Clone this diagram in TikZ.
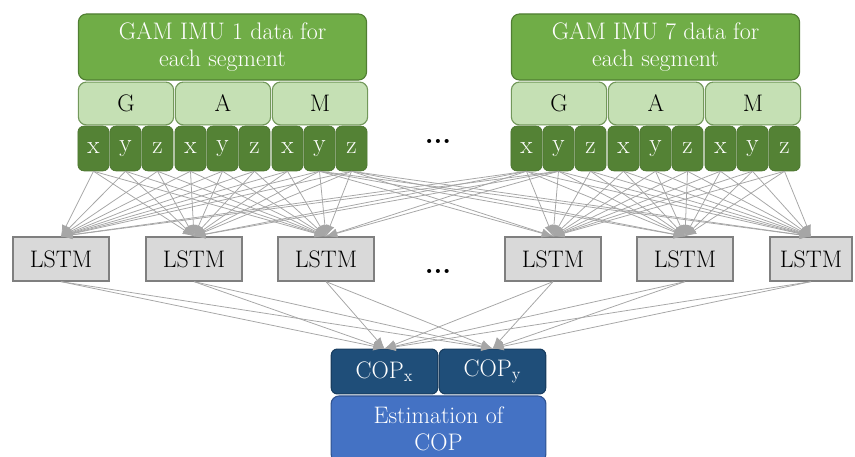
\documentclass[tikz,border=0pt]{standalone}
\usepackage{tikz}
\usetikzlibrary{positioning, arrows.meta}
\definecolor{imugreen}{HTML}{70AD47}
\definecolor{imuedge}{HTML}{507E32}
\definecolor{sensorgreen}{HTML}{C5E0B4}
\definecolor{axisgreen}{HTML}{548235}
\definecolor{lstmgray}{HTML}{D9D9D9}
\definecolor{lstmedge}{HTML}{7F7F7F}
\definecolor{linkgray}{HTML}{A6A6A6}
\definecolor{copblue}{HTML}{1F4E79}
\definecolor{estblue}{HTML}{4472C4}
\definecolor{estedge}{HTML}{2F528F}

\begin{document}
\begin{tikzpicture}[x=0.025cm, y=-0.025cm,
font=\fontsize{17}{19}\selectfont,
headnode/.style={rectangle, rounded corners=0.2cm, fill=imugreen, draw=imuedge, line width=0.8pt, text=white, align=center, minimum width=7.2cm, minimum height=1.65cm, inner sep=0pt},
sensornode/.style={rectangle, rounded corners=0.2cm, fill=sensorgreen, draw=imuedge!80, line width=0.8pt, minimum width=2.38cm, minimum height=1.07cm, inner sep=0pt},
axisnode/.style={rectangle, rounded corners=0.15cm, fill=axisgreen, draw=axisgreen!90!black, line width=0.5pt, text=white, font=\fontsize{18}{20}\selectfont, minimum width=0.78cm, minimum height=1.12cm, inner sep=0pt},
lstmnode/.style={rectangle, fill=lstmgray, draw=lstmedge, line width=1.5pt, minimum width=2.4cm, minimum height=1.08cm, inner sep=0pt},
copnode/.style={rectangle, rounded corners=0.15cm, fill=copblue, draw=copblue!80!black, line width=0.8pt, text=white, minimum width=2.66cm, minimum height=1.12cm, inner sep=0pt},
estnode/.style={rectangle, rounded corners=0.2cm, fill=estblue, draw=estedge, line width=0.8pt, text=white, align=center, minimum width=5.37cm, minimum height=1.65cm, inner sep=0pt},
dotsnode/.style={font=\fontsize{20}{20}\selectfont\bfseries},
link/.style={draw=linkgray, line width=0.55pt, -{Latex[length=0.28cm, width=0.22cm]}},
]
    \useasboundingbox (0,0) rectangle (855,457);

    % IMU blocks
    \foreach \g/\ox in {1/0, 7/433} {
        \node[headnode] (head\g) at (222.5+\ox, 47) {GAM IMU \g\ data for\\each segment};
        \foreach \s [count=\i from 0] in {G,A,M} {
            \node[sensornode] (sens\g\s) at (126+97*\i+\ox, 103.5) {\s};
            \foreach \a [count=\j from 0] in {x,y,z}
                \node[axisnode] (ax\g\s\a) at (93.5+97*\i+32*\j+\ox, 148.5) {\a};
        }
    }
    \node[dotsnode] (dotstop) at (438, 141) {...};

    % LSTM layer
    \foreach \k/\cx in {1/61, 2/194, 3/326, 4/553, 5/685}
        \node[lstmnode] (lstm\k) at (\cx, 259) {LSTM};
    \node[lstmnode, minimum width=2.05cm] (lstm6) at (811, 259) {LSTM};
    \node[dotsnode] (dotsmid) at (438, 271) {...};

    % output
    \node[copnode] (copx) at (384.5, 371.5) {COP\textsubscript{x}};
    \node[copnode] (copy) at (492.5, 371.5) {COP\textsubscript{y}};
    \node[estnode] (est)  at (438.5, 429)   {Estimation of\\COP};

    % IMU -> LSTM
    \foreach \s in {G,A,M}
        \foreach \a in {x,y,z} {
            \foreach \k in {1,2,3} \draw[link] (ax1\s\a.south) -- (lstm\k.north);
            \foreach \k in {4,5,6} \draw[link] (ax7\s\a.south) -- (lstm\k.north);
        }
    \foreach \a in {y,z}
        \foreach \k in {4,5,6} \draw[link] (ax1M\a.south) -- (lstm\k.north);
    \foreach \a in {x,y}
        \foreach \k in {1,2,3} \draw[link] (ax7G\a.south) -- (lstm\k.north);

    % LSTM -> COP
    \foreach \k in {1,...,6} {
        \draw[link] (lstm\k.south) -- (copx.north);
        \draw[link] (lstm\k.south) -- (copy.north);
    }
\end{tikzpicture}
\end{document}
